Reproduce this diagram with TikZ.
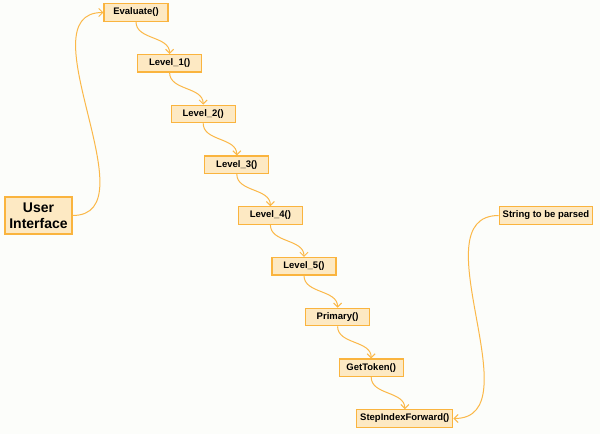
\documentclass[tikz,border=0pt]{standalone}
\usepackage{fontspec}
\setmainfont{Liberation Sans}
\usetikzlibrary{arrows.meta}

\definecolor{boxfill}{RGB}{253,233,195}
\definecolor{boxline}{RGB}{250,180,62}
\definecolor{wireline}{RGB}{251,184,72}
\definecolor{paper}{RGB}{252,253,250}

\begin{document}
\begin{tikzpicture}[x=1pt,y=-1pt,
    func/.style={draw=boxline,fill=boxfill,line width=1.1pt,rectangle,font=\fontsize{9.5}{11}\selectfont\bfseries,
        minimum width=64pt,minimum height=17.5pt,inner xsep=3.5pt,inner ysep=2pt},
    wire/.style={draw=wireline,line width=1pt,-{Straight Barb[length=4pt,width=8pt]}}]
        \fill[paper] (0,0) rectangle (600,434);
        \useasboundingbox (0,0) rectangle (600,434);

        % call chain
        \foreach \t [count=\i from 0] in {Evaluate(),Level\_1(),Level\_2(),Level\_3(),Level\_4(),Level\_5(),Primary(),GetToken(),StepIndexForward()} {
            \node[func] (lvl_\i) at (136+\i*33.6, 12.5+\i*50.75) {\t};
        }
        \foreach \i / \j in {0/1,1/2,2/3,3/4,4/5,5/6,6/7,7/8} {
            \draw[wire] (lvl_\i.south) to[out=-90,in=90] (lvl_\j.north);
        }

        \node[func,font=\fontsize{14}{16}\selectfont\bfseries,align=center,minimum width=67pt,minimum height=37pt] (ui) at (38.5,215.5) {User\\Interface};
        \node[func] (str) at (546,215.5) {String to be parsed};

        \draw[wire] (ui.east) to[out=0,in=180] (lvl_0.west);
        \draw[wire] (str.west) to[out=180,in=0] (lvl_8.east);
\end{tikzpicture}
\end{document}
